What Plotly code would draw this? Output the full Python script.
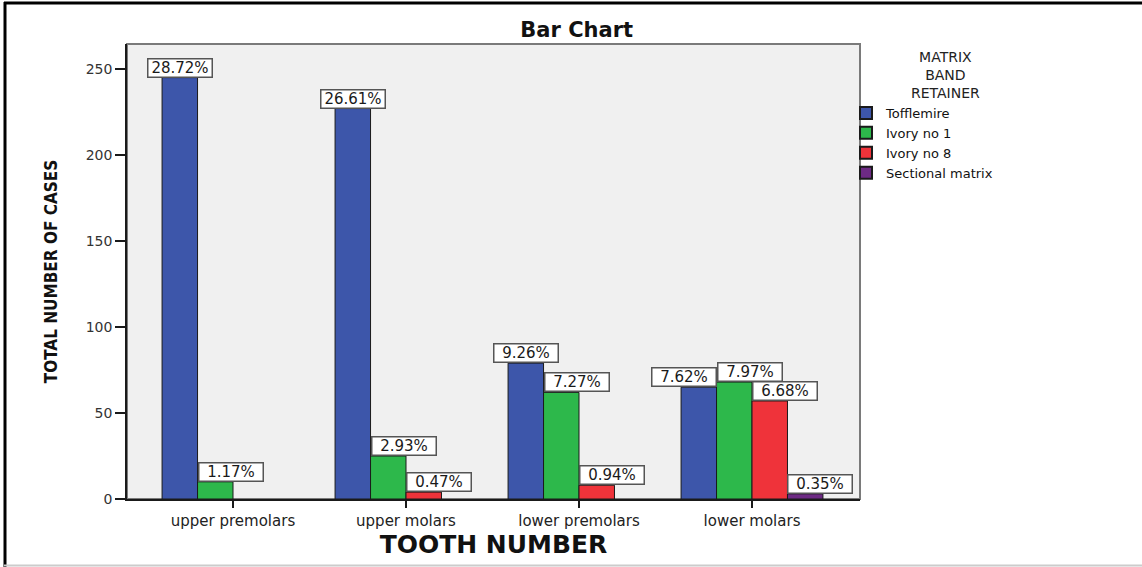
import plotly.graph_objects as go

# ---- data ----
categories = ["upper premolars", "upper molars", "lower premolars", "lower molars"]
series_names = ["Tofflemire", "Ivory no 1", "Ivory no 8", "Sectional matrix"]
tofflemire = [245, 227, 79, 65]
ivory_no_1 = [10, 25, 62, 68]
ivory_no_8 = [None, 4, 8, 57]
sectional_matrix = [None, None, None, 3]
total_cases = 853
y_ticks = [0, 50, 100, 150, 200, 250]
legend_title = "MATRIX<br>BAND<br>RETAINER"

# ---- style ----
colors = ["#3d56aa", "#2db84b", "#ef333a", "#6d2a84"]
# label anchor relative to its bar: c=centre, l=left edge, r=right edge
label_anchor = [
    ["c", "c", "c", "r"],
    ["l", "l", "l", "l"],
    ["l", "l", "l", "l"],
    ["l", "l", "l", "l"],
]
FONT = "DejaVu Sans, Liberation Sans, Arial, sans-serif"
NARROW = "Liberation Sans Narrow, Arial Narrow, DejaVu Sans Condensed, sans-serif"

series = [tofflemire, ivory_no_1, ivory_no_8, sectional_matrix]
bargap = 0.18
slot = (1 - bargap) / len(series)

fig = go.Figure()
for name, vals, col in zip(series_names, series, colors):
    fig.add_trace(go.Bar(
        name=name, x=categories, y=vals,
        marker=dict(color=col, line=dict(color="#1a1a1a", width=1)),
    ))

W, H = 1142, 567
ml, mr, mt, mb = 127, 282, 44, 68
pw, ph = W - ml - mr, H - mt - mb


def px_x(p):
    return (p - ml) / pw


def px_y(p):
    return (H - mb - p) / ph


annotations = []
for j, vals in enumerate(series):
    for i, v in enumerate(vals):
        if v is None:
            continue
        center = i + (j - (len(series) - 1) / 2) * slot
        a = label_anchor[j][i]
        if a == "c":
            xpos, xanc = center, "center"
        elif a == "l":
            xpos, xanc = center - slot / 2, "left"
        else:
            xpos, xanc = center + slot / 2, "right"
        annotations.append(dict(
            x=xpos, y=v, xref="x", yref="y", xanchor=xanc, yanchor="bottom",
            text=f"{v / total_cases * 100:.2f}%", showarrow=False,
            font=dict(family=FONT, size=15, color="#1a1a1a"),
            width=63, height=17, align="center",
            bgcolor="white", bordercolor="#555555", borderwidth=1.5, borderpad=0,
        ))

# legend title drawn as a centred block above the legend items
annotations.append(dict(
    x=px_x(945), y=px_y(47), xref="paper", yref="paper",
    xanchor="center", yanchor="top", showarrow=False, align="center",
    text=legend_title, font=dict(family=FONT, size=14, color="#222222"),
))

shapes = [
    dict(type="rect", xref="paper", yref="paper", x0=0, x1=1, y0=0, y1=1,
         line=dict(color="#7a7a7a", width=2), layer="below"),
    dict(type="line", xref="paper", yref="paper", x0=px_x(5), x1=px_x(5),
         y0=px_y(2), y1=px_y(567), line=dict(color="black", width=3)),
    dict(type="line", xref="paper", yref="paper", x0=px_x(4), x1=px_x(1142),
         y0=px_y(3), y1=px_y(3), line=dict(color="black", width=3)),
    dict(type="line", xref="paper", yref="paper", x0=px_x(4), x1=px_x(1142),
         y0=px_y(565.5), y1=px_y(565.5), line=dict(color="#cccccc", width=2)),
]

fig.update_layout(
    width=W, height=H,
    margin=dict(l=ml, r=mr, t=mt, b=mb, autoexpand=False),
    paper_bgcolor="white", plot_bgcolor="#f0f0f0",
    barmode="group", bargap=bargap, bargroupgap=0,
    title=dict(text="<b>Bar Chart</b>", x=0.505, xref="container", xanchor="center",
               y=1 - 30 / H, yref="container", yanchor="middle",
               font=dict(family=FONT, size=21, color="#111111")),
    font=dict(family=FONT, color="#222222"),
    xaxis=dict(
        type="category", range=[(127 - 233) / 173, (860 - 233) / 173],
        showline=True, linecolor="#1a1a1a", linewidth=1.5, showgrid=False,
        ticks="outside", ticklen=7, tickcolor="#1a1a1a", tickwidth=1.5,
        tickfont=dict(family=FONT, size=15, color="#222222"),
        title=dict(text="<b>TOOTH NUMBER</b>", standoff=0,
                   font=dict(family=FONT, size=25, color="#111111")),
        zeroline=False,
    ),
    yaxis=dict(
        range=[0, (H - mb - mt) / 1.72], tickvals=y_ticks,
        showline=True, linecolor="#1a1a1a", linewidth=1.5, showgrid=False,
        ticks="outside", ticklen=10, tickcolor="#1a1a1a", tickwidth=1.5,
        tickfont=dict(family=FONT, size=14, color="#333333"),
        title=dict(text="<b>TOTAL NUMBER OF CASES</b>", standoff=24,
                   font=dict(family=NARROW, size=17, color="#111111")),
        zeroline=False,
    ),
    legend=dict(
        x=px_x(846), y=px_y(98), xanchor="left", yanchor="top",
        font=dict(family=FONT, size=13, color="#111111"),
        bgcolor="rgba(0,0,0,0)", tracegroupgap=0, itemsizing="constant",
    ),
    annotations=annotations,
    shapes=shapes,
)

fig.write_html("out.html", config={"displayModeBar": False},
               post_script="document.body.style.margin='0';")
